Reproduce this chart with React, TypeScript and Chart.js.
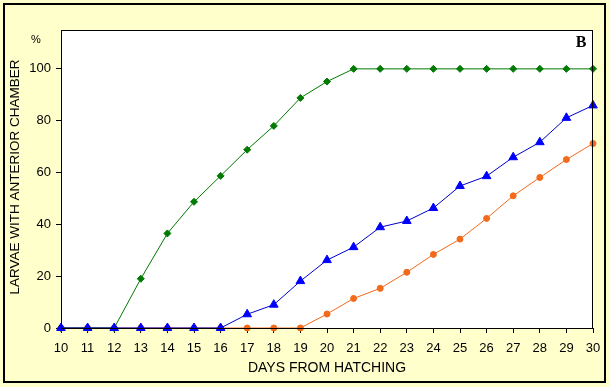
import React, { useEffect, useRef } from "react";
import { Chart, registerables } from "chart.js";

Chart.register(...registerables);

const days = [10, 11, 12, 13, 14, 15, 16, 17, 18, 19, 20, 21, 22, 23, 24, 25, 26, 27, 28, 29, 30];
const greenSeries = [0, 0, 0, 19, 36.5, 48.7, 58.7, 68.8, 78, 88.8, 95.1, 100, 100, 100, 100, 100, 100, 100, 100, 100, 100];
const blueSeries = [0, 0, 0, 0, 0, 0, 0, 5.3, 9, 18.1, 26.2, 31.2, 38.9, 41.3, 46.3, 54.8, 58.6, 65.9, 71.7, 81.1, 85.9];
const orangeSeries = [0, 0, 0, 0, 0, 0, 0, 0, 0, 0, 5.4, 11.4, 15.3, 21.5, 28.4, 34.3, 42.3, 51, 58.1, 65, 71.2];
const yTicks = [0, 20, 40, 60, 80, 100];

const xTitle = "DAYS FROM HATCHING";
const yTitle = "LARVAE WITH ANTERIOR CHAMBER";
const unitLabel = "%";
const panelLabel = "B";

const toPoints = (vals: number[]) => days.map((d, i) => ({ x: d, y: vals[i] }));

const decor = {
  id: "decor",
  beforeDraw(chart: any) {
    const { ctx, chartArea } = chart;
    ctx.save();
    ctx.fillStyle = "#FFFFCC";
    ctx.fillRect(0, 0, chart.width, chart.height);
    ctx.strokeStyle = "#000";
    ctx.lineWidth = 2;
    ctx.strokeRect(4, 4, 601, 378);
    ctx.fillStyle = "#FFFFFF";
    ctx.fillRect(chartArea.left, chartArea.top, chartArea.right - chartArea.left, chartArea.bottom - chartArea.top);
    ctx.restore();
  },
  afterDraw(chart: any) {
    const { ctx, chartArea } = chart;
    ctx.save();
    ctx.strokeStyle = "#000";
    ctx.lineWidth = 1;
    ctx.strokeRect(chartArea.left + 0.5, chartArea.top + 0.5, chartArea.right - chartArea.left - 1, chartArea.bottom - chartArea.top);
    ctx.fillStyle = "#000";
    ctx.textAlign = "center";
    ctx.textBaseline = "middle";
    ctx.font = "14px 'Liberation Sans', Arial, sans-serif";
    ctx.fillText(xTitle, (chartArea.left + chartArea.right) / 2, 368);
    ctx.save();
    ctx.translate(15, 177);
    ctx.rotate(-Math.PI / 2);
    ctx.font = "13.5px 'Liberation Sans', Arial, sans-serif";
    ctx.fillText(yTitle, 0, 0);
    ctx.restore();
    ctx.font = "11px 'Liberation Sans', Arial, sans-serif";
    ctx.fillText(unitLabel, 36, 40);
    ctx.font = "bold 16px 'Liberation Serif', 'Times New Roman', serif";
    ctx.fillText(panelLabel, 581, 43);
    ctx.restore();
  },
};

export default function App() {
  const ref = useRef<HTMLCanvasElement>(null);
  useEffect(() => {
    document.body.style.margin = "0";
    const chart = new Chart(ref.current as HTMLCanvasElement, {
      type: "line",
      data: {
        datasets: [
          {
            label: "blue",
            data: toPoints(blueSeries),
            borderColor: "#0000CC",
            backgroundColor: "#0000FF",
            pointBorderColor: "#0000FF",
            pointStyle: "triangle",
            pointRadius: 5,
            borderWidth: 1,
            clip: false,
          },
          {
            label: "green",
            data: toPoints(greenSeries),
            borderColor: "#007A00",
            backgroundColor: "#007A00",
            pointBorderColor: "#007A00",
            pointStyle: "rectRot",
            pointRadius: 3.5,
            borderWidth: 1,
            clip: false,
          },
          {
            label: "orange",
            data: toPoints(orangeSeries),
            borderColor: "#F26A1B",
            backgroundColor: "#F26A1B",
            pointBorderColor: "#F26A1B",
            pointStyle: "circle",
            pointRadius: 3,
            borderWidth: 1,
            clip: false,
          },
        ],
      },
      options: {
        animation: false,
        responsive: false,
        layout: { padding: { left: 0, right: 17, top: 30, bottom: 0 } },
        plugins: { legend: { display: false }, tooltip: { enabled: false } },
        scales: {
          x: {
            type: "linear",
            min: 10,
            max: 30,
            afterFit: (s: any) => { s.height = 59; },
            afterBuildTicks: (s: any) => { s.ticks = days.map((v) => ({ value: v })); },
            border: { display: true, color: "#000", width: 1 },
            grid: { display: true, drawOnChartArea: false, drawTicks: true, tickLength: 5, color: "#000" },
            ticks: {
              color: "#000",
              padding: 8,
              maxRotation: 0,
              autoSkip: false,
              font: { family: "'Liberation Sans', Arial, sans-serif", size: 13 },
            },
          },
          y: {
            type: "linear",
            min: 0,
            max: 115,
            afterFit: (s: any) => { s.width = 61; },
            afterBuildTicks: (s: any) => { s.ticks = yTicks.map((v) => ({ value: v })); },
            border: { display: true, color: "#000", width: 1 },
            grid: { display: true, drawOnChartArea: false, drawTicks: true, tickLength: 5, color: "#000" },
            ticks: {
              color: "#000",
              padding: 5,
              font: { family: "'Liberation Sans', Arial, sans-serif", size: 13 },
            },
          },
        },
      },
      plugins: [decor],
    });
    return () => chart.destroy();
  }, []);
  return <canvas ref={ref} width={610} height={387} style={{ display: "block" }} />;
}
